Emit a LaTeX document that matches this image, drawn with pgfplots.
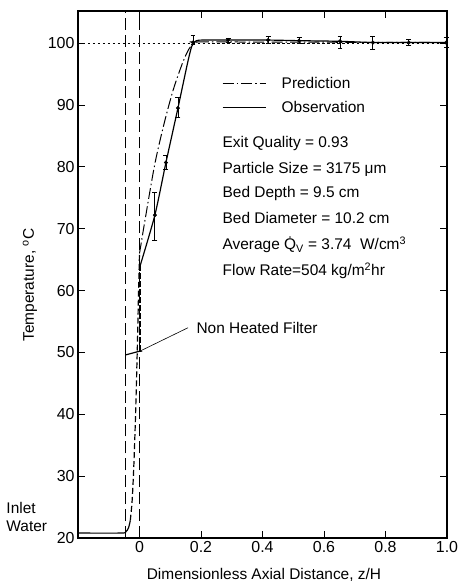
\documentclass[border=0pt]{standalone}
\usepackage{fontspec}
\setmainfont{Liberation Sans}
\usepackage{pgfplots}
\pgfplotsset{compat=1.18}
\usepackage{pgfplotstable}

% observed temperatures with error bars
\pgfplotstableread{
x      y      ep   em
0.050  72.2   3.7  4.1
0.086  80.7   1.2  1.1
0.125  89.5   1.7  1.5
0.174  100.1  1.2  0.3
0.288  100.5  0.3  0.3
0.418  100.5  0.6  0.5
0.519  100.4  0.5  0.4
0.652  100.3  0.8  1.1
0.759  100.1  1.0  1.1
0.876  100.1  0.5  0.4
0.997  100.1  0.8  0.8
}\obsdata

\begin{document}
\begin{tikzpicture}
\path[use as bounding box] (0,0) rectangle (459bp,586bp);
\begin{axis}[
  at={(78bp,48bp)}, anchor=south west,
  scale only axis, width=369bp, height=527bp,
  xmin=-0.2, xmax=1.0, ymin=20, ymax=105.2,
  xtick={0,0.2,0.4,0.6,0.8,1.0},
  xticklabels={0,0.2,0.4,0.6,0.8,1.0},
  ytick={20,30,...,100},
  tick align=inside, major tick length=7bp,
  axis line style={line width=1.2pt},
  tick style={line width=0.9pt, black},
  font=\fontsize{15.5}{18}\selectfont,
  ticklabel style={font=\fontsize{16}{18}\selectfont},
  /pgf/number format/assume math mode=true,
  xlabel={Dimensionless Axial Distance, z/H},
  ylabel={Temperature, \textsuperscript{o}C},
  xlabel style={at={(axis description cs:0.504,-0.07)}, anchor=center},
  ylabel style={at={(axis description cs:-0.13,0.48)}, anchor=center},
  clip=false,
  legend style={draw=none, fill=none, at={(axis cs:0.268,94.85)}, anchor=north west,
    row sep=7bp, inner sep=0pt, font=\fontsize{15.5}{18}\selectfont},
  legend cell align=left,
  legend image code/.code={\draw[#1] (0bp,0bp) -- (43bp,0bp); \path[draw=none] (0bp,0bp) -- (57bp,0bp);},
]
\addlegendimage{black, line width=1pt, dash pattern=on 11pt off 3pt on 1.5pt off 3pt}
\addlegendentry{Prediction}
\addlegendimage{black, line width=1.2pt}
\addlegendentry{Observation}

% saturation line at 100
\addplot[black, line width=0.8pt, dash pattern=on 2.5pt off 2.5pt, forget plot]
  coordinates {(-0.2,100) (1.0,100)};
% filter boundaries
\addplot[black, line width=0.9pt, dash pattern=on 12pt off 5pt, forget plot]
  coordinates {(-0.045,20) (-0.045,105.2)};
\addplot[black, line width=0.9pt, dash pattern=on 12pt off 5pt, forget plot]
  coordinates {(0,20) (0,105.2)};

% inlet water
\addplot[black, line width=1.2pt, smooth, forget plot]
  coordinates {(-0.2,20.8) (-0.06,20.8) (-0.045,21.0) (-0.036,21.6) (-0.03,22.8)};
% prediction inside the filter
\addplot[black, line width=1.2pt, dash pattern=on 6pt off 3pt, smooth, forget plot]
  coordinates {(-0.03,22.8) (-0.024,26) (-0.019,31) (-0.014,38) (-0.010,45) (-0.006,53) (-0.003,60) (0,66)};
% prediction in the bed
\addplot[black, line width=1pt, dash pattern=on 11pt off 3pt on 1.5pt off 3pt, smooth, forget plot]
  coordinates {(0,66) (0.02,72) (0.05,80.5) (0.08,87) (0.11,92.5) (0.14,96.8) (0.16,99) (0.175,99.9) (0.19,100.2) (0.22,100.2) (1.0,100.1)};

% non heated filter observation
\addplot[black, line width=1.2pt, forget plot]
  coordinates {(-0.045,49.6) (0,50.2)};
\addplot[black, line width=1.2pt, forget plot]
  coordinates {(-0.045,48.8) (-0.045,51.4)};
\addplot[black, line width=1.4pt, dash pattern=on 6pt off 2pt, forget plot]
  coordinates {(0.002,50.2) (0.002,64)};

% observation
\addplot[black, line width=1.2pt, smooth, tension=0.4, forget plot]
  coordinates {(0.002,64) (0.050,72.2) (0.086,80.7) (0.125,89.5) (0.155,96.5) (0.170,99.5) (0.185,100.4) (0.21,100.5) (0.288,100.5) (0.418,100.5) (0.519,100.4) (0.652,100.3) (0.759,100.1) (0.876,100.1) (1.0,100.1)};
\addplot[black, only marks, mark=*, mark size=1.8pt, forget plot,
  error bars/.cd, y dir=both, y explicit,
  error bar style={line width=0.8pt},
  error mark options={rotate=90, mark size=2.5pt, line width=0.8pt}]
  table[x=x, y=y, y error plus=ep, y error minus=em] {\obsdata};

\node[anchor=base west] at (axis cs:0.259,83.2) {Exit Quality = 0.93};
\node[anchor=base west] at (axis cs:0.259,79.0) {Particle Size = 3175 μm};
\node[anchor=base west] at (axis cs:0.259,75.0) {Bed Depth = 9.5 cm};
\node[anchor=base west] at (axis cs:0.259,70.8) {Bed Diameter = 10.2 cm};
\node[anchor=base west] at (axis cs:0.259,66.6) {Average \.{Q}\textsubscript{V} = 3.74\ \ W/cm\textsuperscript{3}};
\node[anchor=base west] at (axis cs:0.259,62.4) {Flow Rate=504 kg/m\textsuperscript{2}hr};

\node[anchor=base west] at (axis cs:0.174,53.1) {Non Heated Filter};
\draw[-stealth, line width=0.6pt] (axis cs:0.158,54.0) -- (axis cs:-0.003,50.1);

\node[anchor=base west] at (axis cs:-0.444,24.0) {Inlet};
\node[anchor=base west] at (axis cs:-0.444,21.1) {Water};
\end{axis}
\end{tikzpicture}
\end{document}
